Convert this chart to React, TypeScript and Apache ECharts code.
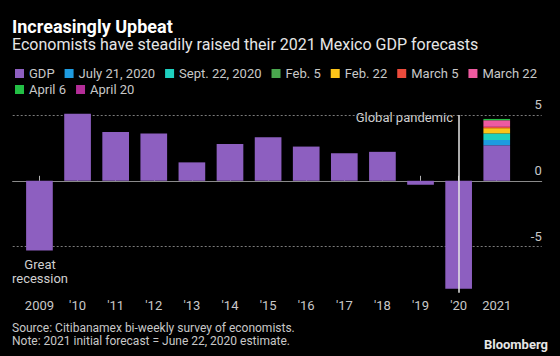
import React, { useEffect, useRef } from "react";
import * as echarts from "echarts";

const categories = ["2009", "'10", "'11", "'12", "'13", "'14", "'15", "'16", "'17", "'18", "'19", "'20", "2021"];
const gdpValues = [-5.3, 5.1, 3.7, 3.6, 1.4, 2.8, 3.3, 2.6, 2.1, 2.2, -0.3, -8.2, 2.7];
const forecastNames = ["July 21, 2020", "Sept. 22, 2020", "Feb. 5", "Feb. 22", "March 5", "March 22", "April 6", "April 20"];
const forecastIncrements = [0.4, 0.5, 0.0, 0.4, 0.1, 0.5, 0.1, 0.0];
const forecastColors = ["#1e9be0", "#1ecfbf", "#4aa84e", "#fcc419", "#ec4b3c", "#ee5aa0", "#23bf45", "#b42d98"];
const gdpColor = "#8d5fc0";
const yTicks = [-5, 0, 5];
const pandemicCategory = "'20";
const pandemicLineRange = [5, -8.5];

const FONT = "Roboto, 'Noto Sans', sans-serif";

export default function App() {
  const ref = useRef<HTMLDivElement>(null);
  useEffect(() => {
    if (!ref.current) return;
    const chart = echarts.init(ref.current, undefined, { renderer: "svg" });
    const lastIdx = categories.length - 1;
    const pandemicIdx = categories.indexOf(pandemicCategory);
    const forecastSeries = forecastNames.map((name, k) => ({
      name,
      type: "bar",
      stack: "total",
      xAxisIndex: 0,
      yAxisIndex: 0,
      barCategoryGap: "30%",
      itemStyle: { color: forecastColors[k] },
      data: categories.map((_, i) => (i === lastIdx ? forecastIncrements[k] : "-")),
    }));
    const legendText = { color: "#c8c8c8", fontSize: 13, fontFamily: FONT };
    const option: any = {
      animation: false,
      backgroundColor: "#000000",
      textStyle: { fontFamily: FONT },
      grid: [
        { left: 20.4, right: 44.2, top: 108.4, bottom: 63.3 },
        { left: 12.7, right: 18.3, top: 115, bottom: 109.3 },
      ],
      legend: [
        {
          data: ["GDP", ...forecastNames.slice(0, 6)],
          left: 10,
          top: 62,
          icon: "rect",
          itemWidth: 9,
          itemHeight: 9,
          itemGap: 10,
          textStyle: legendText,
        },
        {
          data: forecastNames.slice(6),
          left: 10,
          top: 78,
          icon: "rect",
          itemWidth: 9,
          itemHeight: 9,
          itemGap: 10,
          textStyle: legendText,
        },
      ],
      xAxis: [
        {
          type: "category",
          gridIndex: 0,
          data: categories,
          axisLine: { show: false },
          axisTick: { show: true, inside: true, length: 5, alignWithLabel: true, lineStyle: { color: "#b0b0b0" } },
          axisLabel: { color: "#c8c8c8", fontSize: 13, margin: 6, fontFamily: FONT },
          splitLine: { show: false },
        },
        {
          type: "value",
          gridIndex: 1,
          min: 0,
          max: 1,
          axisLine: { show: true, onZero: true, lineStyle: { color: "#8a8a8a", width: 1 } },
          axisTick: { show: false },
          axisLabel: { show: false },
          splitLine: { show: false },
        },
      ],
      yAxis: [
        { type: "value", gridIndex: 0, min: -8.5, max: 5.5, show: false, splitLine: { show: false } },
        {
          type: "value",
          gridIndex: 1,
          min: yTicks[0],
          max: yTicks[yTicks.length - 1],
          interval: 5,
          position: "right",
          axisLine: { show: false },
          axisTick: { show: false },
          splitLine: { show: true, lineStyle: { type: [2, 2], color: "#7a7a7a", width: 1 } },
          axisLabel: {
            inside: true,
            margin: 0,
            color: "#c8c8c8",
            fontSize: 13,
            fontFamily: FONT,
            verticalAlign: "bottom",
            padding: [0, 0, 4, 0],
          },
        },
      ],
      series: [
        {
          name: "GDP",
          type: "bar",
          stack: "total",
          xAxisIndex: 0,
          yAxisIndex: 0,
          barCategoryGap: "30%",
          itemStyle: { color: gdpColor },
          data: gdpValues,
          markLine: {
            silent: true,
            symbol: ["none", "none"],
            label: { show: false },
            z: 10,
            lineStyle: { color: "#e6e6e6", width: 1.5, type: "solid" },
            data: [
              [
                { xAxis: pandemicIdx, yAxis: pandemicLineRange[0] },
                { xAxis: pandemicIdx, yAxis: pandemicLineRange[1] },
              ],
            ],
          },
        },
        ...forecastSeries,
      ],
      graphic: [
        { type: "text", left: 12, top: 17, style: { text: "Increasingly Upbeat", fill: "#ffffff", font: `bold 18px ${FONT}` } },
        { type: "text", left: 12, top: 36, style: { text: "Economists have steadily raised their 2021 Mexico GDP forecasts", fill: "#e6e6e6", font: `16px ${FONT}` } },
        { type: "text", right: 107, top: 111, style: { text: "Global pandemic", fill: "#d0d0d0", font: `13px ${FONT}`, textAlign: "right" } },
        { type: "text", left: 12, top: 257, style: { text: "Great\nrecession", fill: "#d0d0d0", font: `13px ${FONT}`, textAlign: "center", lineHeight: 14 } },
        {
          type: "text",
          left: 12,
          top: 321,
          style: {
            text: "Source: Citibanamex bi-weekly survey of economists.\nNote: 2021 initial forecast = June 22, 2020 estimate.",
            fill: "#c8c8c8",
            font: `12px ${FONT}`,
            lineHeight: 13,
          },
        },
        { type: "text", right: 12, top: 338, style: { text: "Bloomberg", fill: "#e6e6e6", font: `bold 13px ${FONT}` } },
      ],
    };
    chart.setOption(option);
    return () => chart.dispose();
  }, []);
  return <div ref={ref} style={{ position: "fixed", left: 0, top: 0, width: 560, height: 356 }} />;
}
